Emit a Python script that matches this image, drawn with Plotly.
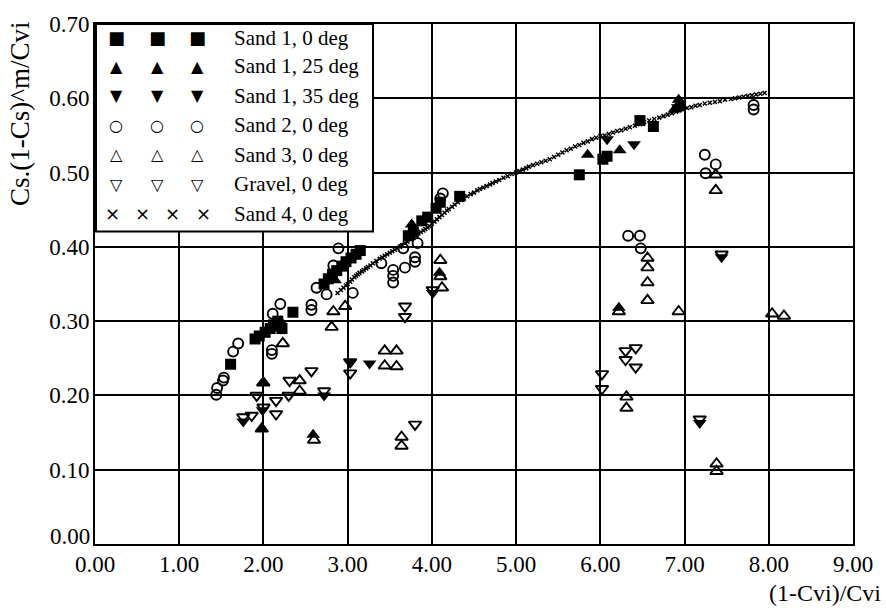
import plotly.graph_objects as go

# ---------------- data ----------------
s1_0_x = [1.61, 1.90, 1.95, 2.02, 2.08, 2.12, 2.17, 2.22, 2.35, 2.72, 2.77, 2.82, 2.87, 2.93, 2.98, 3.04,
          3.10, 3.15, 3.72, 3.78, 3.88, 3.95, 4.05, 4.10, 4.33, 5.75, 6.03, 6.08, 6.47, 6.63, 6.95]
s1_0_y = [0.242, 0.276, 0.280, 0.285, 0.290, 0.295, 0.300, 0.290, 0.312, 0.350, 0.357, 0.363, 0.368, 0.374,
          0.380, 0.385, 0.390, 0.395, 0.415, 0.420, 0.435, 0.440, 0.452, 0.460, 0.468, 0.497, 0.518, 0.522,
          0.570, 0.562, 0.590]

s1_25_x = [1.99, 1.98, 2.10, 2.20, 2.59, 2.85, 3.76, 4.09, 5.85, 6.22, 6.23, 6.88, 6.93]
s1_25_y = [0.217, 0.155, 0.290, 0.300, 0.147, 0.355, 0.430, 0.365, 0.524, 0.318, 0.530, 0.585, 0.598]

s1_35_x = [1.76, 1.99, 2.20, 2.72, 3.03, 3.26, 4.01, 6.08, 6.40, 6.92, 7.18, 7.44]
s1_35_y = [0.165, 0.180, 0.290, 0.200, 0.245, 0.243, 0.338, 0.545, 0.538, 0.588, 0.163, 0.386]

s2_x = [1.44, 1.45, 1.52, 1.53, 1.64, 1.70, 2.10, 2.10, 2.11, 2.20, 2.57, 2.57, 2.63, 2.75, 2.83, 2.89,
        3.06, 3.40, 3.54, 3.54, 3.54, 3.66, 3.68, 3.80, 3.80, 3.83, 4.10, 4.13, 6.33, 6.47, 6.48, 7.24,
        7.25, 7.37, 7.82, 7.82]
s2_y = [0.201, 0.210, 0.220, 0.224, 0.259, 0.270, 0.256, 0.261, 0.310, 0.323, 0.322, 0.315, 0.345, 0.336,
        0.375, 0.398, 0.338, 0.378, 0.369, 0.361, 0.352, 0.398, 0.372, 0.386, 0.380, 0.405, 0.465, 0.472,
        0.415, 0.415, 0.398, 0.524, 0.499, 0.511, 0.591, 0.585]

s3_x = [1.98, 2.00, 2.23, 2.43, 2.43, 2.60, 2.81, 2.83, 2.97, 3.44, 3.58, 3.44, 3.58, 3.64, 3.64, 4.10,
        4.10, 4.12, 6.22, 6.31, 6.31, 6.56, 6.56, 6.56, 6.56, 6.93, 7.37, 7.37, 7.38, 7.38, 8.04, 8.18]
s3_y = [0.155, 0.217, 0.270, 0.220, 0.206, 0.140, 0.292, 0.313, 0.320, 0.260, 0.260, 0.240, 0.239, 0.144,
        0.132, 0.382, 0.360, 0.345, 0.313, 0.198, 0.183, 0.385, 0.372, 0.352, 0.328, 0.313, 0.497, 0.476,
        0.108, 0.098, 0.310, 0.307]

gr_x = [1.76, 1.86, 1.92, 2.00, 2.15, 2.15, 2.31, 2.30, 2.57, 2.72, 3.03, 3.03, 3.68, 3.68, 3.80, 4.01,
        6.02, 6.02, 6.30, 6.30, 6.42, 6.42, 7.18, 7.44]
gr_y = [0.171, 0.173, 0.200, 0.184, 0.193, 0.175, 0.220, 0.200, 0.233, 0.206, 0.245, 0.230, 0.320, 0.306,
        0.161, 0.342, 0.229, 0.209, 0.260, 0.248, 0.264, 0.238, 0.168, 0.390]

s4_x = [2.88, 2.92, 2.95, 2.98, 3.00, 3.03, 3.05, 3.08, 3.10, 3.12, 3.14, 3.17, 3.19, 3.22, 3.24, 3.27,
        3.30, 3.34, 3.38, 3.41, 3.44, 3.47, 3.50, 3.53, 3.56, 3.59, 3.62, 3.65, 3.68, 3.71, 3.75, 3.78,
        3.81, 3.84, 3.87, 3.90, 3.92, 3.95, 3.97, 4.00, 4.03, 4.06, 4.09, 4.12, 4.15, 4.18, 4.20, 4.24,
        4.27, 4.31, 4.35, 4.38, 4.42, 4.46, 4.50, 4.54, 4.57, 4.61, 4.65, 4.69, 4.72, 4.76, 4.80, 4.85,
        4.90, 4.95, 5.00, 5.04, 5.08, 5.12, 5.15, 5.20, 5.25, 5.30, 5.35, 5.40, 5.45, 5.50, 5.55, 5.60,
        5.65, 5.70, 5.75, 5.80, 5.85, 5.90, 5.95, 6.00, 6.05, 6.10, 6.15, 6.20, 6.25, 6.30, 6.35, 6.41,
        6.47, 6.52, 6.58, 6.64, 6.70, 6.75, 6.80, 6.85, 6.90, 6.94, 6.98, 7.03, 7.08, 7.13, 7.18, 7.24,
        7.30, 7.36, 7.42, 7.48, 7.55, 7.60, 7.65, 7.70, 7.75, 7.80, 7.85, 7.90, 7.95]
s4_y = [0.338, 0.342, 0.345, 0.348, 0.350, 0.353, 0.356, 0.359, 0.361, 0.363, 0.365, 0.367, 0.369, 0.371,
        0.373, 0.375, 0.378, 0.381, 0.384, 0.386, 0.388, 0.390, 0.392, 0.394, 0.396, 0.398, 0.400, 0.402,
        0.405, 0.407, 0.410, 0.412, 0.415, 0.418, 0.420, 0.422, 0.424, 0.426, 0.428, 0.431, 0.434, 0.437,
        0.440, 0.443, 0.446, 0.449, 0.451, 0.454, 0.457, 0.460, 0.463, 0.465, 0.468, 0.471, 0.473, 0.476,
        0.478, 0.480, 0.482, 0.484, 0.486, 0.488, 0.490, 0.493, 0.495, 0.498, 0.500, 0.502, 0.504, 0.506,
        0.508, 0.510, 0.512, 0.514, 0.516, 0.518, 0.521, 0.524, 0.527, 0.530, 0.532, 0.535, 0.537, 0.540,
        0.542, 0.545, 0.547, 0.549, 0.550, 0.552, 0.554, 0.556, 0.557, 0.559, 0.561, 0.563, 0.565, 0.568,
        0.570, 0.572, 0.574, 0.576, 0.578, 0.580, 0.582, 0.584, 0.585, 0.587, 0.588, 0.590, 0.591, 0.593,
        0.594, 0.595, 0.596, 0.598, 0.599, 0.600, 0.601, 0.602, 0.603, 0.604, 0.605, 0.606, 0.607]

legend_labels = ["Sand 1, 0 deg", "Sand 1, 25 deg", "Sand 1, 35 deg", "Sand 2, 0 deg",
                 "Sand 3, 0 deg", "Gravel, 0 deg", "Sand 4, 0 deg"]
legend_glyphs = ["■", "▲", "▼", "○", "△", "▽", "×"]

x_ticks = [0, 1, 2, 3, 4, 5, 6, 7, 8, 9]
y_ticks = [0.0, 0.1, 0.2, 0.3, 0.4, 0.5, 0.6, 0.7]

# ---------------- figure ----------------
W, H = 886, 610
ML, MR, MT, MB = 95, 33, 15, 66
SERIF = "Liberation Serif"

fig = go.Figure()

def add(x, y, name, symbol, size, lw=1.6):
    fig.add_trace(go.Scatter(
        x=x, y=y, mode="markers", name=name, showlegend=False,
        marker=dict(symbol=symbol, size=size, color="black",
                    line=dict(color="black", width=lw))))

add(s4_x, s4_y, legend_labels[6], "x-thin-open", 4, 1.5)
add(s2_x, s2_y, legend_labels[3], "circle-open", 10, 1.9)
add(s3_x, s3_y, legend_labels[4], "triangle-up-open", 11, 1.9)
add(gr_x, gr_y, legend_labels[5], "triangle-down-open", 11, 1.9)
add(s1_0_x, s1_0_y, legend_labels[0], "square", 11, 0)
add(s1_25_x, s1_25_y, legend_labels[1], "triangle-up", 12, 0)
add(s1_35_x, s1_35_y, legend_labels[2], "triangle-down", 12, 0)

TICKFONT = dict(family=SERIF, size=23, color="black")
axis_common = dict(showline=True, linecolor="black", linewidth=2, mirror=True,
                   showgrid=True, gridcolor="black", gridwidth=1.6, zeroline=False,
                   ticks="", tickfont=TICKFONT)

fig.update_xaxes(range=[0, 9], tickvals=x_ticks, ticktext=[f"{v:.2f}" for v in x_ticks],
                 ticklabelstandoff=-2, **axis_common)
# the bottom y label is drawn separately (nudged up) so it does not collide with the x "0.00"
fig.update_yaxes(range=[0, 0.7], tickvals=y_ticks,
                 ticktext=["" if v == 0 else f"{v:.2f}" for v in y_ticks],
                 ticklabelstandoff=-1, **axis_common)

def px_x(px):
    return (px - ML) / (W - ML - MR)

def px_y(py):
    return (H - MB - py) / (H - MT - MB)

shapes = [dict(type="rect", xref="paper", yref="paper", x0=px_x(96), x1=px_x(373), y0=px_y(226), y1=1,
               fillcolor="white", line=dict(color="black", width=2), layer="above")]

annotations = []
row_y = [29, 58, 88, 118, 148, 178, 208]
for i, (lab, g) in enumerate(zip(legend_labels, legend_glyphs)):
    cols = [112, 142, 172, 203] if g == "×" else [116, 157, 197]
    gsize = {"■": 18, "▲": 16, "▼": 16, "○": 16, "△": 16, "▽": 16, "×": 18}[g]
    for cx in cols:
        annotations.append(dict(xref="paper", yref="paper", x=px_x(cx), y=px_y(row_y[i]),
                                text=g, showarrow=False, xanchor="center", yanchor="middle",
                                font=dict(family="DejaVu Sans", size=gsize, color="black")))
    annotations.append(dict(xref="paper", yref="paper", x=px_x(232), y=px_y(row_y[i]),
                            text=lab, showarrow=False, xanchor="left", yanchor="middle",
                            font=dict(family=SERIF, size=21, color="black")))

annotations.append(dict(xref="paper", yref="y", x=0, y=y_ticks[0], xshift=-3, yshift=8,
                        xanchor="right", yanchor="middle", text=f"{y_ticks[0]:.2f}",
                        showarrow=False, font=TICKFONT))

annotations.append(dict(xref="paper", yref="paper", x=0, y=1, xshift=-75, yshift=4, xanchor="center",
                        yanchor="top", text="Cs.(1-Cs)^m/Cvi", textangle=-90, showarrow=False,
                        font=dict(family=SERIF, size=27, color="black")))
annotations.append(dict(xref="paper", yref="paper", x=1, y=0, xshift=30, yshift=-49, xanchor="right",
                        yanchor="middle", text="(1-Cvi)/Cvi", showarrow=False,
                        font=dict(family=SERIF, size=24, color="black")))

fig.update_layout(width=W, height=H, margin=dict(l=ML, r=MR, t=MT, b=MB),
                  paper_bgcolor="white", plot_bgcolor="white", showlegend=False,
                  shapes=shapes, annotations=annotations)

fig.write_html("out.html")
